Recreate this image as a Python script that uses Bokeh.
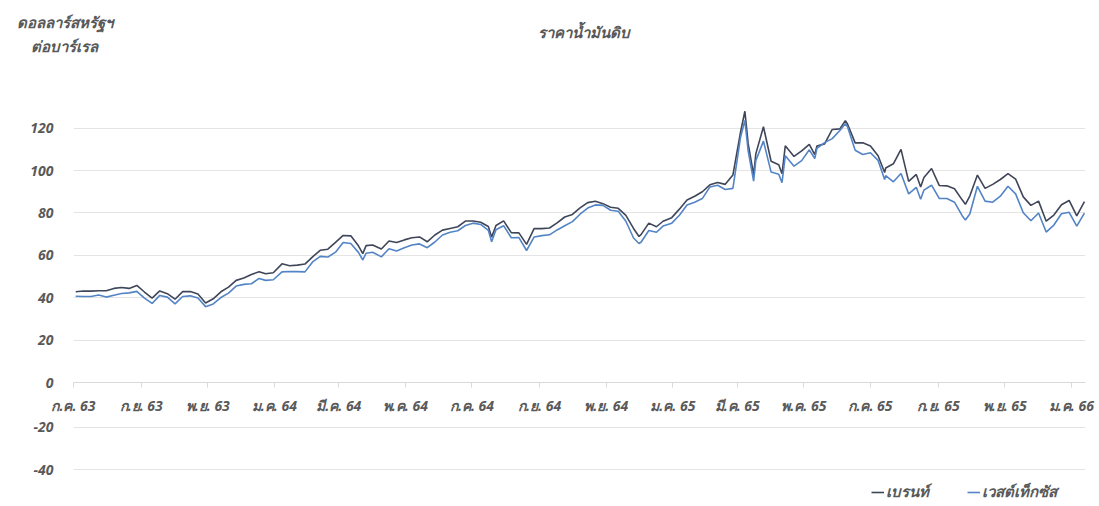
import pandas as pd
from bokeh.plotting import figure
from bokeh.layouts import column
from bokeh.models import FixedTicker, Range1d, Label, Legend, LegendItem, ColumnDataSource
from bokeh.embed import file_html
from bokeh.resources import INLINE

# ---- data (USD per barrel) ----
dates = [
    "2020-07-03", "2020-07-10", "2020-07-17", "2020-07-24", "2020-07-31",
    "2020-08-07", "2020-08-14", "2020-08-21", "2020-08-28",
    "2020-09-04", "2020-09-11", "2020-09-18", "2020-09-25",
    "2020-10-02", "2020-10-09", "2020-10-16", "2020-10-23", "2020-10-30",
    "2020-11-06", "2020-11-13", "2020-11-20", "2020-11-27",
    "2020-12-04", "2020-12-11", "2020-12-18", "2020-12-24", "2020-12-31",
    "2021-01-08", "2021-01-15", "2021-01-22", "2021-01-29",
    "2021-02-05", "2021-02-12", "2021-02-19", "2021-02-26",
    "2021-03-05", "2021-03-12", "2021-03-19", "2021-03-23", "2021-03-26",
    "2021-04-01", "2021-04-09", "2021-04-16", "2021-04-23", "2021-04-30",
    "2021-05-07", "2021-05-14", "2021-05-21", "2021-05-28",
    "2021-06-04", "2021-06-11", "2021-06-18", "2021-06-25",
    "2021-07-02", "2021-07-09", "2021-07-16", "2021-07-19", "2021-07-23", "2021-07-30",
    "2021-08-06", "2021-08-13", "2021-08-20", "2021-08-27",
    "2021-09-03", "2021-09-10", "2021-09-17", "2021-09-24",
    "2021-10-01", "2021-10-08", "2021-10-15", "2021-10-22", "2021-10-29",
    "2021-11-05", "2021-11-12", "2021-11-19", "2021-11-26",
    "2021-12-01", "2021-12-03", "2021-12-10", "2021-12-17", "2021-12-23", "2021-12-31",
    "2022-01-07", "2022-01-14", "2022-01-21", "2022-01-28",
    "2022-02-04", "2022-02-11", "2022-02-18", "2022-02-25",
    "2022-03-04", "2022-03-08", "2022-03-11", "2022-03-16", "2022-03-18", "2022-03-25",
    "2022-04-01", "2022-04-08", "2022-04-11", "2022-04-14", "2022-04-22", "2022-04-29",
    "2022-05-06", "2022-05-11", "2022-05-13", "2022-05-20", "2022-05-27",
    "2022-06-03", "2022-06-08", "2022-06-10", "2022-06-17", "2022-06-24",
    "2022-07-01", "2022-07-08", "2022-07-14", "2022-07-15", "2022-07-22", "2022-07-29",
    "2022-08-05", "2022-08-12", "2022-08-16", "2022-08-19", "2022-08-26",
    "2022-09-02", "2022-09-09", "2022-09-16", "2022-09-23", "2022-09-26", "2022-09-30",
    "2022-10-07", "2022-10-14", "2022-10-21", "2022-10-28",
    "2022-11-04", "2022-11-11", "2022-11-18", "2022-11-25",
    "2022-12-02", "2022-12-09", "2022-12-16", "2022-12-23", "2022-12-30",
    "2023-01-06", "2023-01-13",
]

brent = [
    42.8, 43.2, 43.1, 43.3, 43.3,
    44.4, 44.8, 44.4, 45.8,
    42.7, 39.8, 43.2, 41.9,
    39.3, 42.9, 42.9, 41.8, 37.5,
    39.5, 42.8, 45.0, 48.2,
    49.3, 51.0, 52.3, 51.3, 51.8,
    56.0, 55.1, 55.4, 55.9,
    59.3, 62.4, 62.9, 66.1,
    69.4, 69.2, 64.5, 60.8, 64.6,
    64.9, 63.0, 66.8, 66.1, 67.3,
    68.3, 68.7, 66.4, 69.6,
    71.9, 72.7, 73.5, 76.2,
    76.2, 75.6, 73.6, 68.6, 74.1, 76.3,
    70.7, 70.6, 65.2, 72.7,
    72.6, 72.9, 75.3, 78.1,
    79.3, 82.4, 84.9, 85.5, 84.4,
    82.7, 82.2, 78.9, 72.7,
    68.9, 69.9, 75.2, 73.5, 76.1, 77.8,
    81.8, 86.1, 87.9, 90.0,
    93.3, 94.4, 93.5, 97.9,
    118.1, 128.0, 112.7, 98.0, 107.9, 120.7,
    104.4, 102.8, 98.5, 111.7, 106.7, 109.3,
    112.4, 107.5, 111.6, 112.6, 119.4,
    119.7, 123.6, 122.0, 113.1, 113.1,
    111.6, 107.0, 99.1, 101.2, 103.2, 110.0,
    94.9, 98.2, 92.3, 96.7, 101.0,
    93.0, 92.8, 91.4, 86.2, 84.1, 88.0,
    97.9, 91.6, 93.5, 95.8,
    98.6, 96.0, 87.6, 83.6,
    85.6, 76.1, 79.0, 83.9, 85.9,
    78.6, 85.3,
]

wti = [
    40.7, 40.6, 40.6, 41.3, 40.3,
    41.2, 42.0, 42.3, 43.0,
    39.8, 37.3, 41.1, 40.3,
    37.1, 40.6, 40.9, 39.9, 35.8,
    37.1, 40.1, 42.2, 45.5,
    46.3, 46.6, 49.1, 48.2, 48.5,
    52.2, 52.4, 52.3, 52.2,
    56.9, 59.5, 59.2, 61.5,
    66.1, 65.6, 61.4, 57.8, 61.0,
    61.5, 59.3, 63.1, 62.1, 63.6,
    64.9, 65.4, 63.6, 66.3,
    69.6, 70.9, 71.6, 74.1,
    75.2, 74.6, 71.8, 66.4, 72.1, 74.0,
    68.3, 68.4, 62.3, 68.7,
    69.3, 69.7, 72.0, 74.0,
    75.9, 79.4, 82.3, 83.8, 83.6,
    81.3, 80.8, 76.1, 68.2,
    65.6, 66.3, 71.7, 70.9, 73.8, 75.2,
    78.9, 83.8, 85.1, 86.8,
    92.3, 93.1, 91.1, 91.6,
    115.7, 123.7, 109.3, 95.0, 104.7, 113.9,
    99.3, 98.3, 94.3, 107.0, 102.1, 104.7,
    109.8, 105.7, 110.5, 113.2, 115.1,
    118.9, 122.1, 120.7, 109.6, 107.6,
    108.4, 104.8, 95.8, 97.6, 94.7, 98.6,
    89.0, 92.1, 86.5, 90.8, 93.1,
    86.9, 86.8, 85.1, 78.7, 76.7, 79.5,
    92.6, 85.6, 85.1, 87.9,
    92.6, 89.0, 80.1, 76.3,
    80.0, 71.0, 74.3, 79.6, 80.3,
    73.8, 79.9,
]

tick_dates = [
    "2020-07-01", "2020-09-01", "2020-11-01", "2021-01-01", "2021-03-01",
    "2021-05-01", "2021-07-01", "2021-09-01", "2021-11-01", "2022-01-01",
    "2022-03-01", "2022-05-01", "2022-07-01", "2022-09-01", "2022-11-01",
    "2023-01-01",
]
tick_labels = [
    "ก.ค. 63", "ก.ย. 63", "พ.ย. 63", "ม.ค. 64", "มี.ค. 64",
    "พ.ค. 64", "ก.ค. 64", "ก.ย. 64", "พ.ย. 64", "ม.ค. 65",
    "มี.ค. 65", "พ.ค. 65", "ก.ค. 65", "ก.ย. 65", "พ.ย. 65",
    "ม.ค. 66",
]
y_ticks = [-40, -20, 0, 20, 40, 60, 80, 100, 120]

series_names = ["เบรนท์", "เวสต์เท็กซัส"]
title_text = "ราคาน้ำมันดิบ"
unit_lines = ["ดอลลาร์สหรัฐฯ", "ต่อบาร์เรล"]

FONT = "Noto Sans"
STYLE = "bold italic"
GREY = "#595959"
GRID = "#e4e4e4"
C_BRENT = "#3f4659"
C_WTI = "#5384c6"

X_START = pd.Timestamp("2020-07-01")
X_END = pd.Timestamp("2023-01-14")
PX_PER_UNIT = 384.0 / 180.0   # 20 units = 42.67 px

W = 1099
LEFT, RIGHT = 73, 14
HEADER_H = 75
MAIN_TOP, MAIN_BOTTOM = 10, 33
MAIN_FRAME = 299                # 0 .. 140
BOTTOM_H = 506 - HEADER_H - MAIN_TOP - MAIN_FRAME - MAIN_BOTTOM


def style_y(ax, ticks):
    ax.ticker = FixedTicker(ticks=ticks)
    ax.axis_line_color = None
    ax.major_tick_line_color = None
    ax.minor_tick_line_color = None
    ax.major_label_standoff = 14
    ax.major_label_text_font = FONT
    ax.major_label_text_font_style = STYLE
    ax.major_label_text_font_size = "14px"
    ax.major_label_text_color = GREY


# ---------- header with title and unit ----------
head = figure(width=W, height=HEADER_H, output_backend="svg", toolbar_location=None,
              x_range=Range1d(0, W), y_range=Range1d(0, HEADER_H),
              x_axis_location=None, y_axis_location=None,
              min_border=0, min_border_left=0, min_border_right=0,
              min_border_top=0, min_border_bottom=0)
head.frame_align = False
head.outline_line_color = None
head.xgrid.visible = False
head.ygrid.visible = False
head.add_layout(Label(x=583, y=HEADER_H - 31, text=title_text,
                      text_align="center", text_baseline="middle", text_font=FONT,
                      text_font_style=STYLE, text_font_size="15px", text_color=GREY))
for txt, yc in zip(unit_lines, [21, 45]):
    head.add_layout(Label(x=64, y=HEADER_H - yc, text=txt,
                          text_align="center", text_baseline="middle", text_font=FONT,
                          text_font_style=STYLE, text_font_size="15px", text_color=GREY))

# ---------- main chart (0 .. 140) ----------
src = ColumnDataSource(dict(x=pd.to_datetime(dates), brent=brent, wti=wti))
main = figure(width=W, height=MAIN_TOP + MAIN_FRAME + MAIN_BOTTOM, x_axis_type="datetime",
              output_backend="svg", toolbar_location=None,
              x_range=Range1d(X_START, X_END),
              y_range=Range1d(0, MAIN_FRAME / PX_PER_UNIT),
              min_border_left=LEFT, min_border_right=RIGHT,
              min_border_top=MAIN_TOP, min_border_bottom=MAIN_BOTTOM)
main.outline_line_color = None
main.line("x", "brent", source=src, line_color=C_BRENT, line_width=1.6)
main.line("x", "wti", source=src, line_color=C_WTI, line_width=1.6)

tick_ms = [pd.Timestamp(d).timestamp() * 1000.0 for d in tick_dates]
xa = main.xaxis[0]
xa.ticker = FixedTicker(ticks=tick_ms)
xa.major_label_overrides = {t: l for t, l in zip(tick_ms, tick_labels)}
xa.axis_line_color = "#d9d9d9"
xa.major_tick_line_color = "#d9d9d9"
xa.major_tick_out = 5
xa.major_tick_in = 0
xa.minor_tick_line_color = None
xa.major_label_standoff = 8
xa.major_label_text_font = FONT
xa.major_label_text_font_style = STYLE
xa.major_label_text_font_size = "14px"
xa.major_label_text_color = GREY

style_y(main.yaxis[0], [t for t in y_ticks if t >= 0])
main.xgrid.grid_line_color = None
main.ygrid.grid_line_color = GRID

# ---------- lower part (negative values) with legend ----------
top_val = -(MAIN_BOTTOM) / PX_PER_UNIT
low = figure(width=W, height=BOTTOM_H, output_backend="svg", toolbar_location=None,
             x_axis_type="datetime", x_range=main.x_range,
             y_range=Range1d(top_val - BOTTOM_H / PX_PER_UNIT, top_val),
             x_axis_location=None,
             min_border_left=LEFT, min_border_right=RIGHT,
             min_border_top=0, min_border_bottom=0)
low.outline_line_color = None
style_y(low.yaxis[0], [t for t in y_ticks if t < 0])
low.xgrid.grid_line_color = None
low.ygrid.grid_line_color = GRID

# same series (they lie above this panel's range); used for the legend glyphs
lb = low.line("x", "brent", source=src, line_color=C_BRENT, line_width=1.6)
lw = low.line("x", "wti", source=src, line_color=C_WTI, line_width=1.6)
legend = Legend(items=[LegendItem(label=series_names[0], renderers=[lb]),
                       LegendItem(label=series_names[1], renderers=[lw])],
                orientation="horizontal", location=(798, 2),
                border_line_color=None, background_fill_alpha=0,
                glyph_width=13, glyph_height=16, label_height=16,
                label_standoff=2, spacing=38, padding=0, margin=0,
                label_text_font=FONT, label_text_font_style=STYLE,
                label_text_font_size="15px", label_text_color=GREY)
low.add_layout(legend)

layout = column(head, main, low, spacing=0)
open("out.html", "w").write(file_html(layout, INLINE))
